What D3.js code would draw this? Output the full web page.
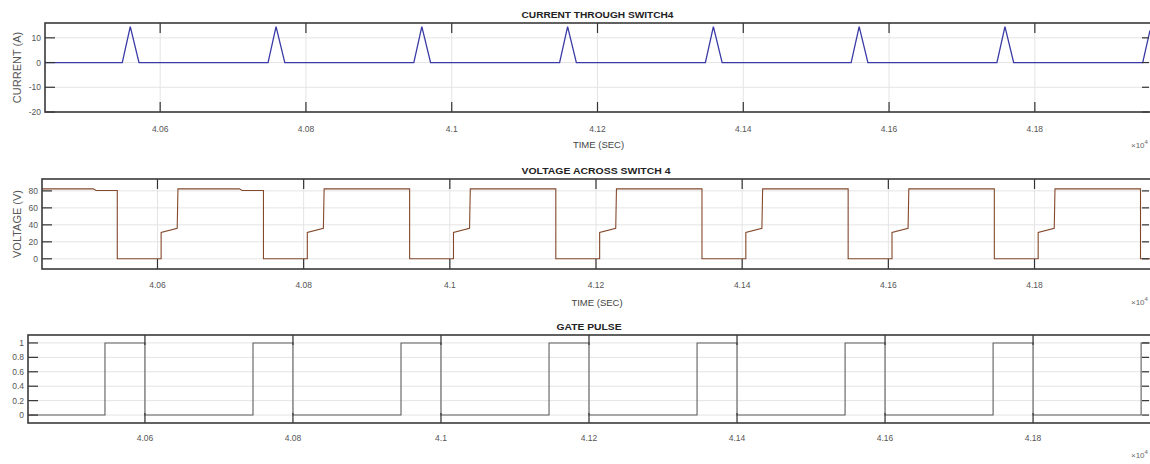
<!DOCTYPE html>
<html>
<head>
<meta charset="utf-8">
<script src="https://cdn.jsdelivr.net/npm/d3@7"></script>
<style>
  body { margin: 0; background: #fff; }
  svg { display: block; }
  text { font-family: 'Liberation Sans Narrow', 'Liberation Sans', Arial, sans-serif; }
</style>
</head>
<body>
<svg id="chart" width="1150" height="464"></svg>
<script>
// time axis shared by the three panels
const timeDomain = [4.0442, 4.1958]
const timeTicks = [4.06, 4.08, 4.10, 4.12, 4.14, 4.16, 4.18]
const timeTickLabels = ['4.06', '4.08', '4.1', '4.12', '4.14', '4.16', '4.18']

// current through switch 4 (A)
const currentT = [4.0442,
  4.0548, 4.0559, 4.0571, 4.0748, 4.0759, 4.0771, 4.0948, 4.0959, 4.0971,
  4.1148, 4.1159, 4.1171, 4.1348, 4.1359, 4.1371, 4.1548, 4.1559, 4.1571,
  4.1748, 4.1759, 4.1771, 4.1948, 4.1958]
const currentV = [0,
  0, 14.5, 0, 0, 14.5, 0, 0, 14.5, 0,
  0, 14.5, 0, 0, 14.5, 0, 0, 14.5, 0,
  0, 14.5, 0, 0, 13]
const currentTicks = [-20, -10, 0, 10]

// voltage across switch 4 (V)
const voltT = [4.0442, 4.0512, 4.0516, 4.0545, 4.0545,
  4.0605, 4.0605, 4.0627, 4.0628, 4.0712, 4.0716, 4.0745, 4.0745,
  4.0805, 4.0805, 4.0827, 4.0828, 4.0945, 4.0945,
  4.1005, 4.1005, 4.1027, 4.1028, 4.1145, 4.1145,
  4.1205, 4.1205, 4.1227, 4.1228, 4.1345, 4.1345,
  4.1405, 4.1405, 4.1427, 4.1428, 4.1545, 4.1545,
  4.1605, 4.1605, 4.1627, 4.1628, 4.1745, 4.1745,
  4.1805, 4.1805, 4.1827, 4.1828, 4.1945, 4.1945, 4.1958]
const voltV = [82.4, 82.4, 80.5, 80.5, 0,
  0, 31, 36, 82.4, 82.4, 80.5, 80.5, 0,
  0, 31, 36, 82.4, 82.4, 0,
  0, 31, 36, 82.4, 82.4, 0,
  0, 31, 36, 82.4, 82.4, 0,
  0, 31, 36, 82.4, 82.4, 0,
  0, 31, 36, 82.4, 82.4, 0,
  0, 31, 36, 82.4, 82.4, 0, 0]
const voltTicks = [0, 20, 40, 60, 80]

// gate pulse
const gateT = [4.0442,
  4.0546, 4.0546, 4.06, 4.06, 4.0746, 4.0746, 4.08, 4.08,
  4.0946, 4.0946, 4.10, 4.10, 4.1146, 4.1146, 4.12, 4.12,
  4.1346, 4.1346, 4.14, 4.14, 4.1546, 4.1546, 4.16, 4.16,
  4.1746, 4.1746, 4.18, 4.18, 4.1946, 4.1946, 4.1958]
const gateV = [0,
  0, 1, 1, 0, 0, 1, 1, 0,
  0, 1, 1, 0, 0, 1, 1, 0,
  0, 1, 1, 0, 0, 1, 1, 0,
  0, 1, 1, 0, 0, 1, 1]
const gateTicks = [0, 0.2, 0.4, 0.6, 0.8, 1]
const gateTickLabels = ['0', '0.2', '0.4', '0.6', '0.8', '1']

const svg = d3.select('#chart')
const W = 1150
const tickLen = 10

const panels = [
  {
    left: 45, top: 23, bottom: 112,
    title: 'CURRENT THROUGH SWITCH4', titleW: 152,
    ylabel: 'CURRENT (A)', xlabel: 'TIME (SEC)',
    yDomain: [-20, 16], yTicks: currentTicks, yTickLabels: currentTicks.map(String),
    t: currentT, v: currentV, color: '#3a3aa6', width: 1.3,
    tickY: 132, xlabelY: 148, expY: 148
  },
  {
    left: 42, top: 179, bottom: 269,
    title: 'VOLTAGE ACROSS SWITCH 4', titleW: 149,
    ylabel: 'VOLTAGE (V)', xlabel: 'TIME (SEC)',
    yDomain: [-12, 94], yTicks: voltTicks, yTickLabels: voltTicks.map(String),
    t: voltT, v: voltV, color: '#84492c', width: 1.1,
    tickY: 288, xlabelY: 306, expY: 305
  },
  {
    left: 28, top: 335, bottom: 423,
    title: 'GATE PULSE', titleW: 65,
    ylabel: null, xlabel: null,
    yDomain: [-0.11, 1.11], yTicks: gateTicks, yTickLabels: gateTickLabels,
    t: gateT, v: gateV, color: '#5e5e5e', width: 1.1,
    tickY: 441, xlabelY: null, expY: 458
  }
]

panels.forEach(p => {
  const x = d3.scaleLinear().domain(timeDomain).range([p.left, W])
  const y = d3.scaleLinear().domain(p.yDomain).range([p.bottom, p.top])
  const g = svg.append('g')

  // grid
  g.selectAll('line.gx').data(timeTicks).enter().append('line')
    .attr('x1', d => x(d)).attr('x2', d => x(d))
    .attr('y1', p.top).attr('y2', p.bottom)
    .attr('stroke', '#e4e4e4').attr('stroke-width', 1)
  g.selectAll('line.gy').data(p.yTicks).enter().append('line')
    .attr('x1', p.left).attr('x2', W)
    .attr('y1', d => y(d)).attr('y2', d => y(d))
    .attr('stroke', '#e4e4e4').attr('stroke-width', 1)

  // series
  const pts = p.t.map((t, i) => [t, p.v[i]])
  g.append('path')
    .datum(pts)
    .attr('fill', 'none')
    .attr('stroke', p.color)
    .attr('stroke-width', p.width)
    .attr('d', d3.line().x(d => x(d[0])).y(d => y(d[1])))

  // inward ticks on all four sides
  const ticks = g.append('g').attr('stroke', '#333').attr('stroke-width', 1.2)
  timeTicks.forEach(d => {
    ticks.append('line').attr('x1', x(d)).attr('x2', x(d)).attr('y1', p.bottom).attr('y2', p.bottom - tickLen)
    ticks.append('line').attr('x1', x(d)).attr('x2', x(d)).attr('y1', p.top).attr('y2', p.top + tickLen)
  })
  p.yTicks.forEach(d => {
    ticks.append('line').attr('x1', p.left).attr('x2', p.left + tickLen).attr('y1', y(d)).attr('y2', y(d))
    ticks.append('line').attr('x1', W - 1).attr('x2', W - 1 - tickLen + 3).attr('y1', y(d)).attr('y2', y(d))
  })

  // box
  g.append('rect')
    .attr('x', p.left).attr('y', p.top)
    .attr('width', W - p.left + 2).attr('height', p.bottom - p.top)
    .attr('fill', 'none').attr('stroke', '#3a3a3a').attr('stroke-width', 1.6)

  // tick labels
  g.selectAll('text.xt').data(timeTicks).enter().append('text')
    .attr('x', d => x(d)).attr('y', p.tickY)
    .attr('text-anchor', 'middle').attr('font-size', 8.5).attr('fill', '#555')
    .text((d, i) => timeTickLabels[i])
  g.selectAll('text.yt').data(p.yTicks).enter().append('text')
    .attr('x', p.left - 4).attr('y', d => y(d) + 3)
    .attr('text-anchor', 'end').attr('font-size', 8.5).attr('fill', '#555')
    .text((d, i) => p.yTickLabels[i])

  // title
  g.append('text')
    .attr('x', (p.left + W) / 2).attr('y', p.top - 5)
    .attr('text-anchor', 'middle').attr('font-size', 9.5).attr('font-weight', 'bold')
    .attr('fill', '#222')
    .attr('textLength', p.titleW).attr('lengthAdjust', 'spacingAndGlyphs')
    .text(p.title)

  if (p.xlabel) {
    g.append('text')
      .attr('x', (p.left + W) / 2 + 1).attr('y', p.xlabelY)
      .attr('text-anchor', 'middle').attr('font-size', 9.5).attr('fill', '#444')
      .text(p.xlabel)
  }
  if (p.ylabel) {
    g.append('text')
      .attr('transform', `translate(21,${(p.top + p.bottom) / 2}) rotate(-90)`)
      .attr('text-anchor', 'middle').attr('font-size', 11)
      .attr('font-family', "'Liberation Sans', Arial, sans-serif").attr('fill', '#555')
      .text(p.ylabel)
  }

  // exponent label
  const e = g.append('text')
    .attr('x', 1131).attr('y', p.expY)
    .attr('font-size', 8).attr('fill', '#666')
  e.append('tspan').text('×10')
  e.append('tspan').attr('dy', -4).attr('font-size', 6).text('4')
})
</script>
</body>
</html>
